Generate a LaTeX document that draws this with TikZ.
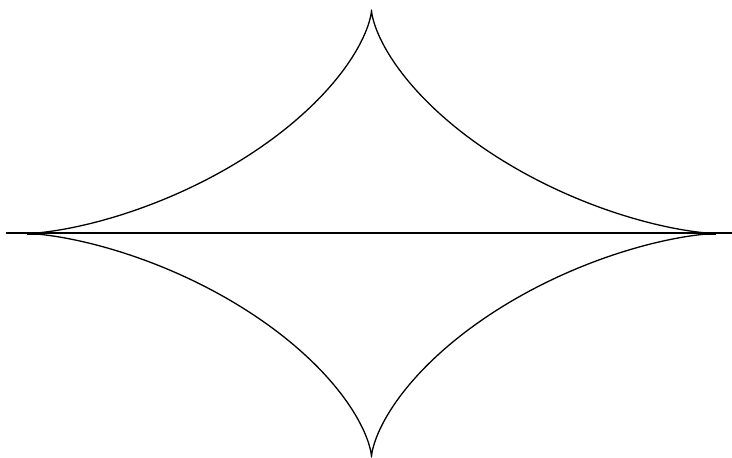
\documentclass[tikz,border=0pt]{standalone}
\begin{document}
\begin{tikzpicture}[x=1pt,y=1pt,
  curve/.style={line width=1.3pt,line join=round},
  axis/.style={line width=2pt}]
\useasboundingbox (0,0) rectangle (732,458);
\coordinate (L) at (6,224.5);
\coordinate (R) at (732,224.5);
\coordinate (Lc) at (27,224.5);
\coordinate (Lb) at (45,224.5);
\coordinate (Rb) at (702,224.5);
\coordinate (Rc) at (716,224.5);
\draw[curve] plot[domain=0:360,samples=721,variable=\t]
  ({371.5+344*cos(\t)*cos(\t)*cos(\t)},{224.5+223.5*sin(\t)*sin(\t)*sin(\t)}) -- cycle;
\draw[axis] (L) -- (R);
\draw[line width=3.5pt] (Lc) -- (Lb);
\draw[line width=3.5pt] (Rb) -- (Rc);
\end{tikzpicture}
\end{document}
